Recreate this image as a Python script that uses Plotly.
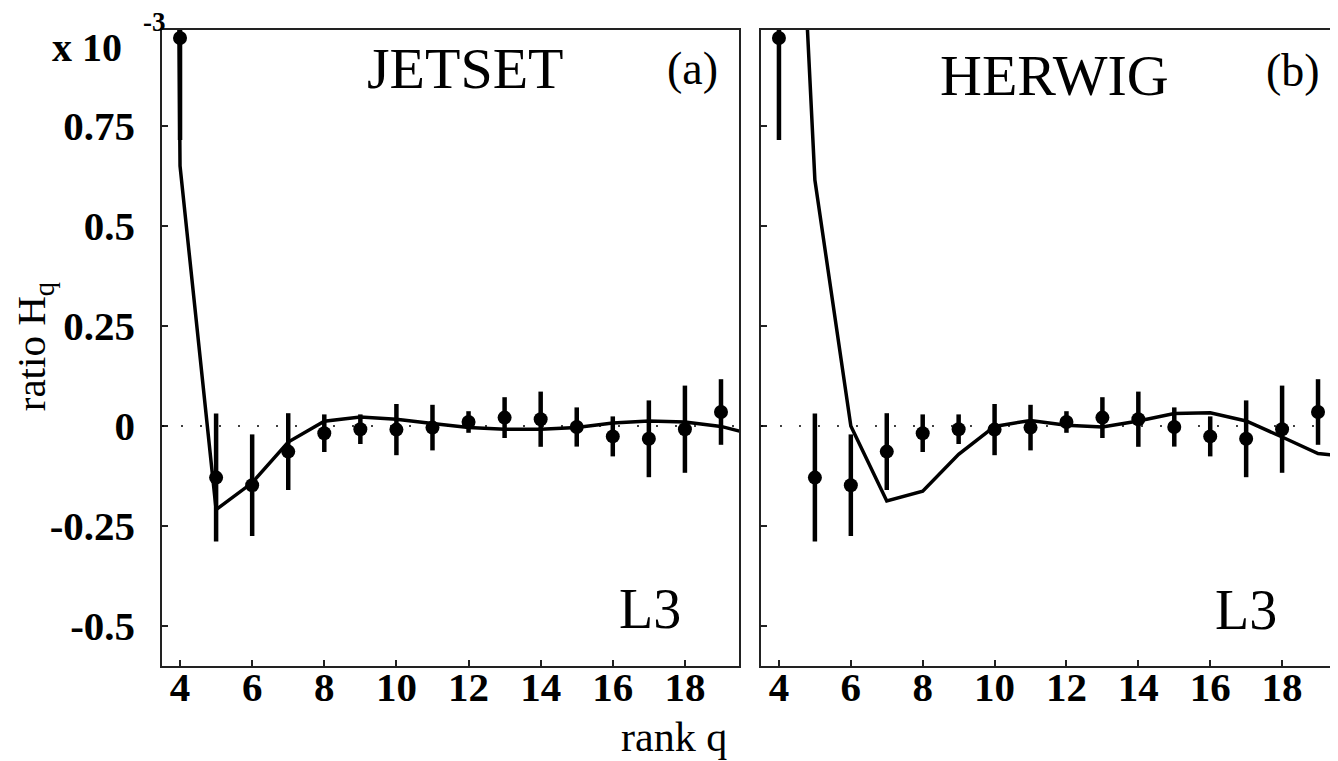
import plotly.graph_objects as go

# ---- data ----
rank_q = [4, 5, 6, 7, 8, 9, 10, 11, 12, 13, 14, 15, 16, 17, 18, 19]
l3_ratio = [0.97, -0.129, -0.148, -0.064, -0.018, -0.008, -0.009, -0.004,
            0.010, 0.021, 0.017, -0.0025, -0.026, -0.032, -0.008, 0.035]
l3_err = [0.255, 0.160, 0.127, 0.096, 0.047, 0.037, 0.064, 0.057,
          0.027, 0.051, 0.069, 0.049, 0.050, 0.096, 0.109, 0.082]

jetset_q = [3, 4, 5, 6, 7, 8, 9, 10, 11, 12, 13, 14, 15, 16, 17, 18, 19, 20]
jetset_ratio = [12.0, 0.65, -0.209, -0.142, -0.040, 0.012, 0.0225, 0.017, 0.006,
                -0.004, -0.008, -0.008, -0.004, 0.0075, 0.0125, 0.010, -0.001, -0.024]

herwig_q = [4, 5, 6, 7, 8, 9, 10, 11, 12, 13, 14, 15, 16, 17, 18, 19, 20]
herwig_ratio = [2.43, 0.615, 0.0, -0.1875, -0.163, -0.071, -0.001, 0.014, 0.002,
                -0.0025, 0.0125, 0.031, 0.033, 0.0125, -0.0275, -0.069, -0.078]

y_tickvals = [-0.5, -0.25, 0, 0.25, 0.5, 0.75]
y_ticktext = ["-0.5", "-0.25", "0", "0.25", "0.5", "0.75"]
x_tickvals = [4, 6, 8, 10, 12, 14, 16, 18]

SERIF = "Liberation Serif, Times New Roman, serif"

fig = go.Figure()

for xa, ya, mq, mv in [("x", "y", jetset_q, jetset_ratio),
                       ("x2", "y2", herwig_q, herwig_ratio)]:
    fig.add_trace(go.Scatter(x=mq, y=mv, mode="lines",
                             line=dict(color="black", width=3.5),
                             xaxis=xa, yaxis=ya, showlegend=False))
    fig.add_trace(go.Scatter(x=rank_q, y=l3_ratio, mode="markers",
                             marker=dict(color="black", size=14),
                             error_y=dict(type="data", array=l3_err, visible=True,
                                          thickness=4.5, width=0, color="black"),
                             xaxis=xa, yaxis=ya, showlegend=False, cliponaxis=True))

axis_common = dict(showline=True, mirror=True, linecolor="#222", linewidth=1.5,
                   ticks="inside", ticklen=6, tickwidth=1.5, tickcolor="#222",
                   showgrid=False, zeroline=False,
                   tickfont=dict(family=SERIF, size=41, color="black", weight="bold"))

w = 1176.0
fig.update_layout(
    width=1330, height=753,
    margin=dict(l=154, r=0, t=22, b=95),
    paper_bgcolor="white", plot_bgcolor="white",
    xaxis=dict(domain=[0, 578 / w], range=[3.5, 19.5], tickvals=x_tickvals,
               ticklabelstandoff=-16, **axis_common),
    xaxis2=dict(domain=[600 / w, 1], range=[3.5, 19.5], tickvals=x_tickvals,
                anchor="y2", ticklabelstandoff=-16, **axis_common),
    yaxis=dict(range=[-0.6, 0.99], tickvals=y_tickvals, ticktext=y_ticktext,
               anchor="x", ticklabelstandoff=17, **axis_common),
    yaxis2=dict(range=[-0.6, 0.99], tickvals=y_tickvals, showticklabels=False,
                anchor="x2", **axis_common),
)

for xr in ["x domain", "x2 domain"]:
    fig.add_shape(type="line", xref=xr, yref="y" if xr == "x domain" else "y2",
                  x0=0, x1=1, y0=0, y1=0,
                  line=dict(color="black", width=1.5, dash="2px,17px"))

def ann(text, x, y, xref, yref, size, bold=False, angle=0):
    fig.add_annotation(text=text, x=x, y=y, xref=xref, yref=yref,
                       showarrow=False, textangle=angle,
                       xanchor="center", yanchor="middle",
                       font=dict(family=SERIF, size=size, color="black",
                                 weight="bold" if bold else "normal"))

ann("JETSET", 0.526, 0.940, "x domain", "y domain", 58)
ann("(a)", 0.920, 0.939, "x domain", "y domain", 46)
ann("L3", 0.846, 0.090, "x domain", "y domain", 56)
ann("HERWIG", 0.510, 0.928, "x2 domain", "y2 domain", 58)
ann("(b)", 0.925, 0.937, "x2 domain", "y2 domain", 46)
ann("L3", 0.844, 0.088, "x2 domain", "y2 domain", 56)
ann("ratio H<sub>q</sub>", -0.1088, 0.5016, "paper", "paper", 41, angle=-90)
ann("rank q", 0.436, -0.1116, "paper", "paper", 42)
ann("x 10", -0.0638, 0.973, "paper", "paper", 40, bold=True)
ann("-3", -0.006, 1.013, "paper", "paper", 27, bold=True)

fig.write_html("out.html")
